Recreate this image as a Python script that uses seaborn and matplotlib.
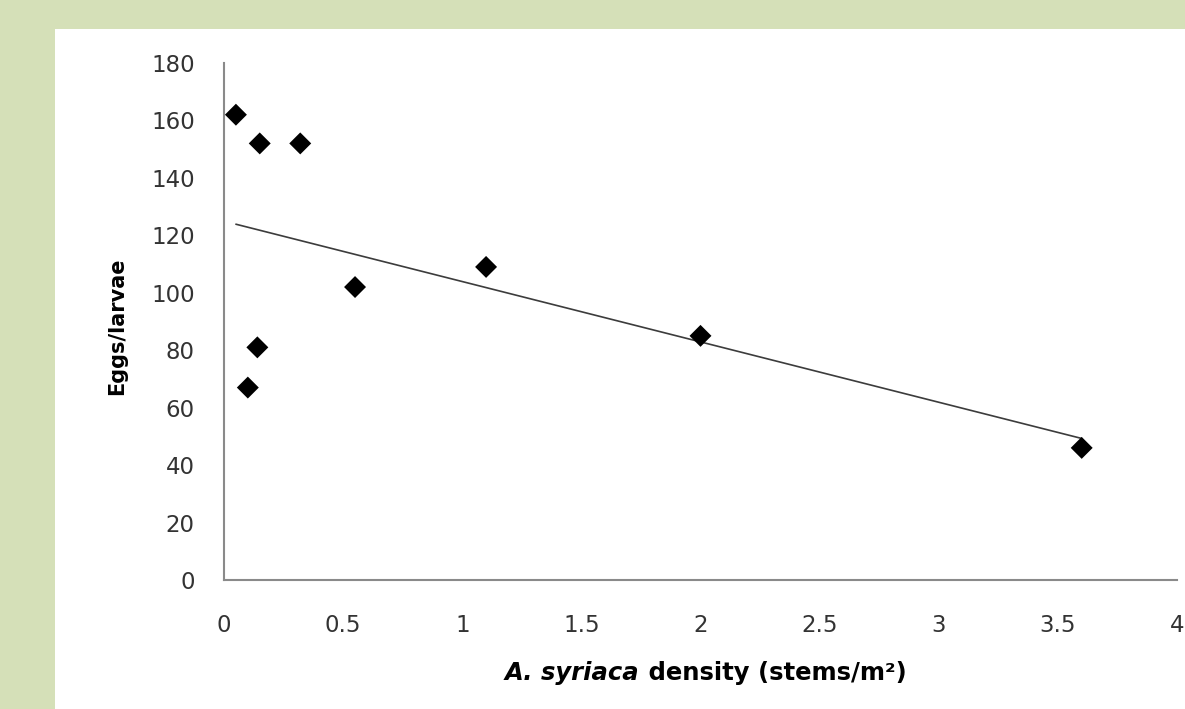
import matplotlib.pyplot as plt
import matplotlib.patches as mpatches
import seaborn as sns
import pandas as pd

# stem density vs eggs/larvae
density = [0.05, 0.15, 0.32, 0.55, 1.1, 2.0, 3.6, 0.14, 0.1]
eggs_larvae = [162, 152, 152, 102, 109, 85, 46, 81, 67]
x_ticks = [0, 0.5, 1, 1.5, 2, 2.5, 3, 3.5, 4]
x_tick_labels = ['0', '0.5', '1', '1.5', '2', '2.5', '3', '3.5', '4']
y_ticks = [0, 20, 40, 60, 80, 100, 120, 140, 160, 180]

df = pd.DataFrame({'density': density, 'eggs': eggs_larvae})

sns.set_style('white')
plt.rcParams['font.family'] = ['DejaVu Sans']

fig = plt.figure(figsize=(11.85, 7.09), dpi=100)
fig.patch.set_facecolor('#d5e0b8')
fig.patches.append(mpatches.Rectangle((55 / 1185, 0), 1 - 55 / 1185, 1 - 29 / 709,
                                      transform=fig.transFigure, facecolor='white',
                                      edgecolor='none', zorder=-5))

ax = fig.add_axes([224 / 1185, 1 - 580 / 709, (1177 - 224) / 1185, (580 - 63) / 709])
ax.set_facecolor('none')

sns.regplot(data=df, x='density', y='eggs', ci=None, ax=ax, marker='D',
            scatter_kws={'color': 'black', 's': 125, 'alpha': 1,
                         'edgecolors': 'none', 'zorder': 3},
            line_kws={'color': '#3c3c3c', 'lw': 1.2, 'zorder': 2})

ax.set_xlim(0, 4)
ax.set_ylim(0, 180)
ax.set_xticks(x_ticks)
ax.set_xticklabels(x_tick_labels)
ax.set_yticks(y_ticks)
ax.tick_params(axis='both', length=0, labelsize=16.5, colors='#333333')
ax.tick_params(axis='x', pad=24.5)
ax.tick_params(axis='y', pad=21)

for side in ['top', 'right']:
    ax.spines[side].set_visible(False)
for side in ['left', 'bottom']:
    ax.spines[side].set_color('#8a8a8a')
    ax.spines[side].set_linewidth(1.5)

ax.set_xlabel('')
ax.set_ylabel('Eggs/larvae', fontsize=15, fontweight='bold', labelpad=0,
              va='center', color='black')
ax.yaxis.set_label_coords(-107 / 953, 0.49)

t1 = fig.text(505 / 1185, 1 - 680 / 709, 'A. syriaca', fontsize=17.5,
              fontweight='bold', fontstyle='italic', color='black',
              va='baseline', ha='left')
fig.add_artist(plt.Annotation(' density (stems/m²)', xy=(1, 0), xycoords=t1,
                              va='bottom', ha='left', fontsize=17.5,
                              fontweight='bold', color='black'))

fig.savefig('out.png', dpi=100, facecolor=fig.get_facecolor())
